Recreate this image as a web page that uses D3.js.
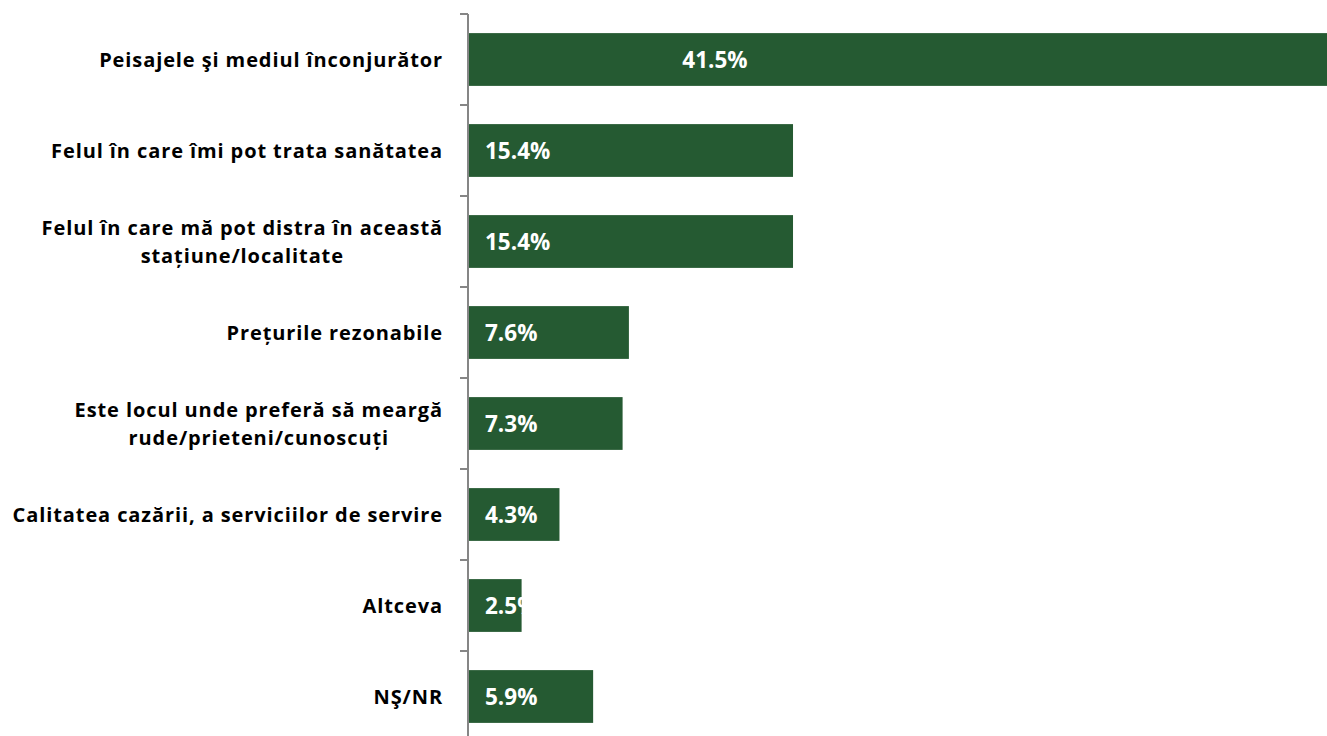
<!DOCTYPE html>
<html>
<head>
<meta charset="utf-8">
<script src="https://cdn.jsdelivr.net/npm/d3@7"></script>
<style>
  html, body { margin: 0; padding: 0; background: #fff; overflow: hidden; }
  svg { display: block; }
  text { font-family: "Open Sans", Lato, sans-serif; font-weight: 700; }
</style>
</head>
<body>
<svg id="chart" width="1327" height="736"></svg>
<script>
const categories = [
  ["Peisajele şi mediul înconjurător"],
  ["Felul în care îmi pot trata sanătatea"],
  ["Felul în care mă pot distra în această", "stațiune/localitate"],
  ["Prețurile rezonabile"],
  ["Este locul unde preferă să meargă", "rude/prieteni/cunoscuți"],
  ["Calitatea cazării, a serviciilor de servire"],
  ["Altceva"],
  ["NŞ/NR"]
];
const values = [41.5, 15.4, 15.4, 7.6, 7.3, 4.3, 2.5, 5.9];
const valueLabels = ["41.5%", "15.4%", "15.4%", "7.6%", "7.3%", "4.3%", "2.5%", "5.9%"];

(function () {
const W = 1327, H = 736;
const svg = d3.select("#chart");
const x0 = 468;
const plotTop = 14, band = 91;

const x = d3.scaleLinear().domain([0, 41.5]).range([x0 + 1, x0 + 1 + 41.5 * 21.04]);
const ids = values.map((d, i) => i);
const y = d3.scaleBand().domain(ids).range([plotTop, plotTop + band * ids.length]).paddingInner(0.42).paddingOuter(0.21);

const clip = svg.append("defs").append("clipPath").attr("id", "plotclip");
clip.append("rect").attr("x", x0).attr("y", 0).attr("width", W - x0).attr("height", H);

const color = "#255a32";
const g = svg.append("g").attr("clip-path", "url(#plotclip)");
g.selectAll("rect.bar").data(values).join("rect")
  .attr("class", "bar")
  .attr("x", x(0))
  .attr("y", (d, i) => y(i))
  .attr("width", d => x(d) - x(0))
  .attr("height", y.bandwidth())
  .attr("fill", color);

// value labels
g.selectAll("text.val").data(values).join("text")
  .attr("class", "val")
  .attr("x", (d, i) => x(d) > W ? 715 : x(0) + 16)
  .attr("text-anchor", (d, i) => x(d) > W ? "middle" : "start")
  .attr("y", (d, i) => y(i) + y.bandwidth() / 2)
  .attr("dy", "0.36em")
  .attr("fill", "#fff")
  .attr("font-size", 22.5)
  .text((d, i) => valueLabels[i]);

// axis
const yAxis = d3.scaleBand().domain(ids).range([plotTop, plotTop + band * ids.length]);
const axG = svg.append("g");
axG.append("line").attr("x1", x0).attr("x2", x0).attr("y1", plotTop).attr("y2", H)
  .attr("stroke", "#868686").attr("stroke-width", 2);
axG.selectAll("line.tick").data(ids).join("line")
  .attr("class", "tick")
  .attr("x1", x0 - 8).attr("x2", x0)
  .attr("y1", d => yAxis(d)).attr("y2", d => yAxis(d))
  .attr("stroke", "#868686").attr("stroke-width", 2);

// category labels
const labelRight = 443;
const lineH = 28;
categories.forEach((lines, i) => {
  const cy = yAxis(i) + band / 2;
  const grp = svg.append("g");
  const texts = lines.map((s, j) => grp.append("text")
    .attr("font-size", 20)
    .attr("letter-spacing", 0.9)
    .attr("fill", "#000")
    .attr("y", cy + (j - (lines.length - 1) / 2) * lineH)
    .attr("dy", "0.36em")
    .attr("text-anchor", "middle")
    .text(s));
  const maxW = d3.max(texts, t => t.node().getBBox().width);
  texts.forEach(t => t.attr("x", labelRight - maxW / 2));
});
})();
</script>
</body>
</html>
